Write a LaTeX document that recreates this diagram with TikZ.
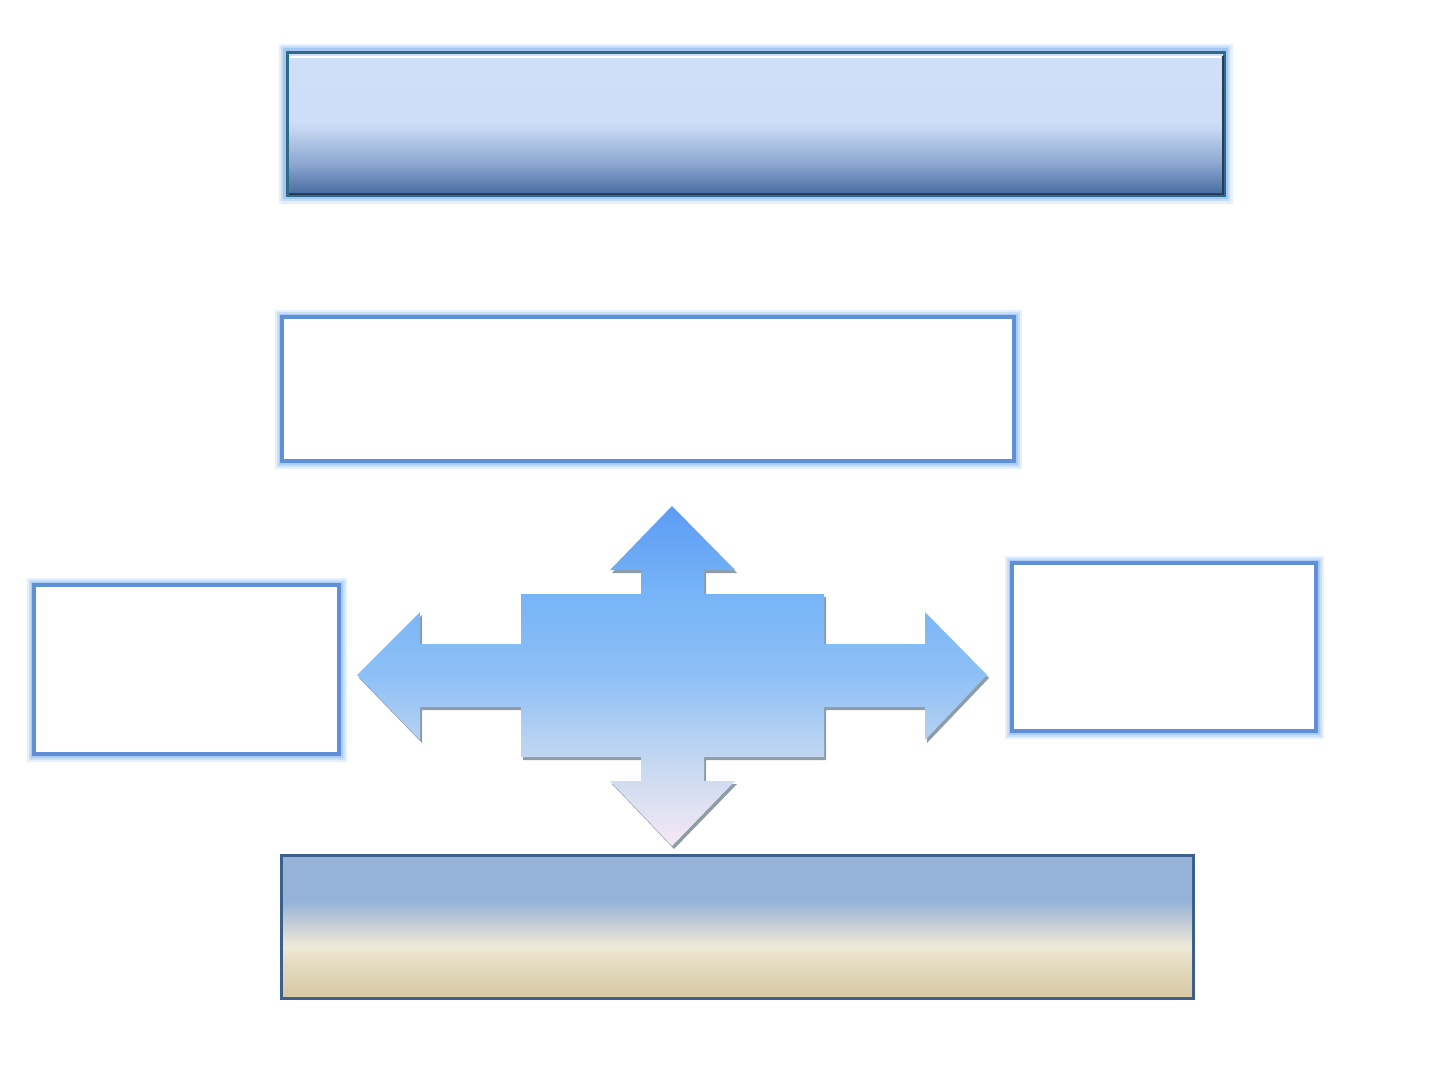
\documentclass[tikz,border=0pt]{standalone}
\usetikzlibrary{calc}
\definecolor{glowc}{HTML}{9CC3F2}
\definecolor{boxline}{HTML}{5E8FD8}
\definecolor{topline}{HTML}{2F6B86}
\definecolor{botline}{HTML}{3D5F8C}
\definecolor{shadowc}{HTML}{8E9CA6}
\definecolor{topdark}{HTML}{283C5A}
\definecolor{tA}{HTML}{3E5D8C}\definecolor{tB}{HTML}{466B9F}\definecolor{tC}{HTML}{8CA7D1}
\definecolor{tD}{HTML}{C4D6F2}\definecolor{tE}{HTML}{CEDEF8}\definecolor{tF}{HTML}{D0E0F9}
\definecolor{bA}{HTML}{D2C39C}\definecolor{bB}{HTML}{D6C8A3}\definecolor{bC}{HTML}{E6DDC3}
\definecolor{bD}{HTML}{EEEAD7}\definecolor{bE}{HTML}{C9D0D6}\definecolor{bF}{HTML}{95B3D8}
\definecolor{aA}{HTML}{F7E8F5}\definecolor{aB}{HTML}{C6D9F1}\definecolor{aC}{HTML}{8EC0F6}
\definecolor{aD}{HTML}{77B4F7}\definecolor{aE}{HTML}{5C9CF4}
\pgfdeclareverticalshading{topshade}{100bp}{
  color(0bp)=(tA); color(25bp)=(tB); color(36bp)=(tC);
  color(48bp)=(tD); color(51bp)=(tE); color(100bp)=(tF)}
\pgfdeclareverticalshading{botshade}{100bp}{
  color(0bp)=(bA); color(25bp)=(bB); color(38bp)=(bC);
  color(43bp)=(bD); color(50bp)=(bE); color(59bp)=(bF); color(100bp)=(bF)}
\pgfdeclareverticalshading{arrowshade}{100bp}{
  color(0bp)=(aA); color(25bp)=(aA); color(37bp)=(aB);
  color(50bp)=(aC); color(62bp)=(aD); color(75bp)=(aE); color(100bp)=(aE)}
\tikzset{
  glowbox/.style={draw=boxline, line width=3.5pt, fill=white,
    preaction={draw=glowc, line width=15pt, opacity=0.25},
    preaction={draw=glowc, line width=11pt, opacity=0.4},
    preaction={draw=glowc, line width=7pt, opacity=0.7}},
  topbox/.style={draw=topline, line width=3pt, shading=topshade,
    preaction={draw=glowc, line width=17pt, opacity=0.25},
    preaction={draw=glowc, line width=12pt, opacity=0.45},
    preaction={draw=glowc, line width=8pt, opacity=0.8}},
  botbox/.style={draw=botline, line width=3pt, shading=botshade},
  bx/.style={inner sep=0pt, outer sep=0pt}
}
\begin{document}
\begin{tikzpicture}[x=1pt,y=-1pt]
\useasboundingbox (0,0) rectangle (1440,1080);
% boxes
\node[bx, topbox, minimum width=937pt, minimum height=143pt] (top) at (755.5,123.5) {};
\draw[white, line width=2.5pt] ([xshift=3pt,yshift=-5pt]top.north west) -- ([xshift=-3pt,yshift=-5pt]top.north east);
\draw[topdark, line width=2pt] ([xshift=-1pt,yshift=-4pt]top.north east) -- ([xshift=-1pt,yshift=1pt]top.south east) -- ([xshift=2pt,yshift=1pt]top.south west);
\node[bx, glowbox, minimum width=732pt, minimum height=144pt] (mid) at (648,389) {};
\node[bx, glowbox, minimum width=305pt, minimum height=169pt] (left) at (186.5,669.5) {};
\node[bx, glowbox, minimum width=304pt, minimum height=168pt] (right) at (1164,647) {};
\node[bx, botbox, minimum width=912pt, minimum height=143pt] (bot) at (737,926.5) {};
% four-way arrow
\def\arrowpath{(672,506) -- (735,570) -- (704,570) -- (704,594) -- (824,594) -- (824,644) -- (925,644) -- (925,612) -- (987,675) -- (925,740) -- (925,707) -- (824,707) -- (824,757) -- (704,757) -- (704,781) -- (735,781) -- (672,846) -- (610,781) -- (641,781) -- (641,757) -- (521,757) -- (521,707) -- (420,707) -- (420,740) -- (357,675) -- (420,612) -- (420,644) -- (521,644) -- (521,594) -- (641,594) -- (641,570) -- (610,570) -- cycle}
\fill[shadowc, shift={(2pt,-3pt)}] \arrowpath;
\shade[shading=arrowshade] \arrowpath;
\end{tikzpicture}
\end{document}
